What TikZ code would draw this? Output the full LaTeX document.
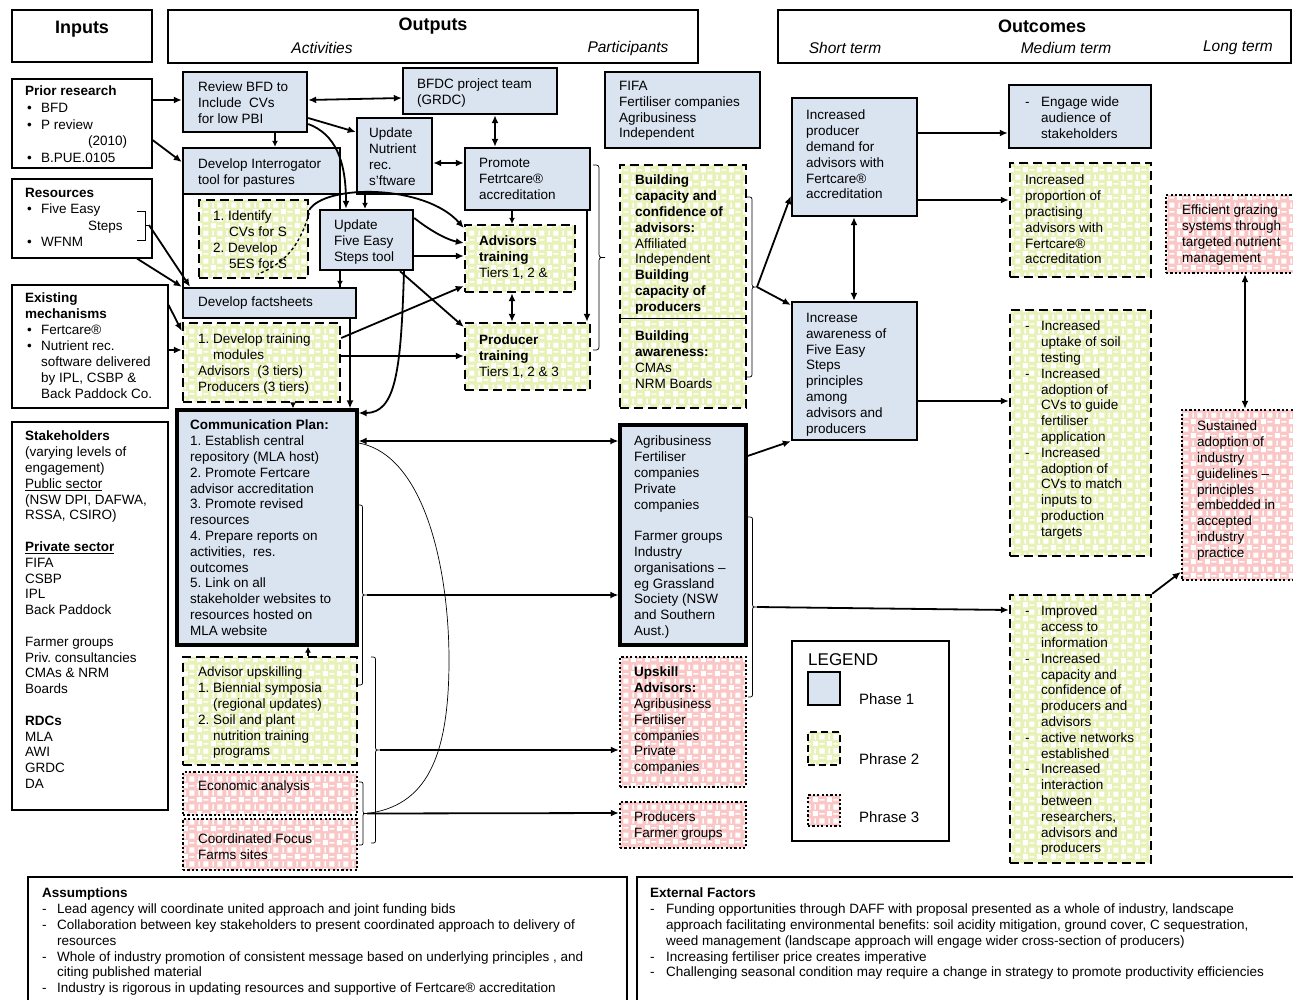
\documentclass[tikz,border=0pt]{standalone}
\usepackage{fontspec}
\setmainfont{Liberation Sans}
\usetikzlibrary{arrows.meta,fit,patterns.meta}

\definecolor{pone}{RGB}{218,227,240}
\definecolor{ptwo}{RGB}{232,241,184}
\definecolor{pthree}{RGB}{250,198,198}

% chequered texture used on phase 2 and phase 3 boxes
\tikzdeclarepattern{
  name=chk, type=uncolored,
  bottom left={(0pt,0pt)}, top right={(14pt,14pt)}, tile size={(14pt,14pt)},
  code={\fill (0.8pt,0.8pt) rectangle (6.2pt,6.2pt);
        \fill (7.8pt,7.8pt) rectangle (13.2pt,13.2pt);
        \fill (7.8pt,2.5pt) rectangle (13.2pt,4pt);
        \fill (2.5pt,7.8pt) rectangle (4pt,13.2pt);}
}

\newcommand{\bul}{\hspace*{2pt}\makebox[14pt][l]{\textbullet}}
\newcommand{\dsh}{\makebox[16pt][l]{-}}
\newcommand{\ind}{\hspace*{16pt}}
% right-pointing curly bracket: x, top y, bottom y, width, tip name
\newcommand{\bracepath}[5]{%
  \draw[brc] (#1,#2) .. controls ({#1+#4/2},#2) .. ({#1+#4/2},{#2+#4/2})
    -- ({#1+#4/2},{(#2+#3)/2-#4/2}) .. controls ({#1+#4/2},{(#2+#3)/2}) .. ({#1+#4},{(#2+#3)/2}) coordinate (#5)
    .. controls ({#1+#4/2},{(#2+#3)/2}) .. ({#1+#4/2},{(#2+#3)/2+#4/2})
    -- ({#1+#4/2},{#3-#4/2}) .. controls ({#1+#4/2},#3) .. (#1,#3);}

\tikzset{
  inbox/.style={draw, line width=1.1pt, inner sep=0pt},
  phaseA/.style={draw, line width=2.4pt, fill=pone, inner sep=0pt},
  phaseB/.style={draw, line width=2.4pt, dash pattern=on 9pt off 5pt,
    preaction={fill=ptwo}, pattern=chk, pattern color=white, inner sep=0pt},
  phaseC/.style={draw, line width=2.4pt, dash pattern=on 2.2pt off 2.2pt,
    preaction={fill=pthree}, pattern=chk, pattern color=white, inner sep=0pt},
  txt/.style={anchor=north west, inner sep=0pt, align=left,
    font=\fontsize{13.5}{15.8}\selectfont},
  head/.style={inner sep=0pt, font=\fontsize{18}{20}\bfseries\selectfont},
  sub/.style={inner sep=0pt, font=\fontsize{15.5}{18}\itshape\selectfont},
  arr/.style={line width=1.8pt, -{Latex[length=8pt,width=7pt]}},
  darr/.style={line width=1.8pt, {Latex[length=8pt,width=7pt]}-{Latex[length=8pt,width=7pt]}},
  sarr/.style={line width=1.8pt, -{Latex[length=6pt,width=6pt]}},
  sdarr/.style={line width=1.8pt, {Latex[length=6pt,width=6pt]}-{Latex[length=6pt,width=6pt]}},
  brc/.style={line width=0.7pt},
}

\begin{document}
\frenchspacing
\begin{tikzpicture}[x=1pt, y=-1pt]
\useasboundingbox (0,0) rectangle (1293,999);

% ---------- headers ----------
\node[inbox, fit={(12,10) (152,62)}] (hin) {};
\node[inbox, fit={(168,10) (698,63)}] (hout) {};
\node[inbox, fit={(778,10) (1291,63)}] (hoc) {};

% ---------- inputs ----------
\node[inbox, fit={(12,79) (152,168)}] (prior) {};
\node[inbox, fit={(12,179) (152,258)}] (res) {};
\node[inbox, fit={(12,285) (168,408)}] (exist) {};
\node[inbox, fit={(12,422) (168,810)}] (stake) {};

% ---------- activities ----------
\node[phaseA, fit={(183,72) (307,132)}] (review) {};
\node[phaseA, fit={(403,68) (557,114)}] (bfdc) {};
\node[phaseA, fit={(183,148) (340,194)}] (interr) {};
\node[draw, line width=2.4pt, fill=white, inner sep=0pt, fit={(183,194) (340,288)}] (interrx) {};
\node[phaseB, fit={(199,200) (308,278)}] (ident) {};
\node[phaseA, fit={(357,118) (432,194)}] (nutr) {};
\node[phaseA, fit={(320,210) (413,270)}] (fes) {};
\node[phaseA, fit={(183,288) (356,318)}] (fact) {};
\node[phaseB, fit={(183,323) (340,402)}] (train) {};
\node[phaseA, line width=3.2pt, fit={(177,410) (357,645)}] (comm) {};
\node[phaseB, fit={(183,657) (357,765)}] (upsk) {};
\node[phaseC, fit={(183,772) (357,815)}] (econ) {};
\node[phaseC, fit={(183,819) (357,870)}] (focus) {};

\node[phaseA, fit={(465,148) (590,210)}] (promo) {};
\node[phaseB, fit={(465,225) (575,292)}] (advt) {};
\node[phaseB, fit={(465,323) (590,390)}] (prodt) {};

% ---------- participants ----------
\node[phaseA, fit={(605,72) (760,148)}] (fifa) {};
\node[phaseB, fit={(620,165) (746,408)}] (build) {};
\draw[line width=1pt] (build.west |- 0,318) -- (build.east |- 0,318);
\node[phaseA, line width=3.2pt, fit={(620,425) (746,645)}] (agri) {};
\node[phaseC, fit={(620,657) (746,787)}] (upadv) {};
\node[phaseC, fit={(620,802) (746,848)}] (prodf) {};

% ---------- outcomes ----------
\node[phaseA, fit={(792,98) (917,216)}] (demand) {};
\node[phaseA, fit={(792,302) (917,440)}] (aw) {};
\node[phaseA, fit={(1009,85) (1151,148)}] (engage) {};
\node[phaseB, fit={(1010,163) (1151,277)}] (prop) {};
\node[phaseB, fit={(1010,310) (1151,556)}] (uptake) {};
\node[phaseB, fit={(1010,595) (1151,863)}] (access) {};
\node[phaseC, fit={(1166,195) (1302,273)}] (effic) {};
\node[phaseC, fit={(1182,410) (1302,580)}] (sust) {};

% ---------- legend ----------
\node[inbox, fit={(792,641) (949,841)}] (legend) {};
\node[phaseA, fit={(808,672) (840,705)}] (leg1) {};
\node[phaseB, dash pattern=on 7pt off 4pt, fit={(808,732) (840,765)}] (leg2) {};
\node[phaseC, fit={(808,795) (840,826)}] (leg3) {};

% ---------- bottom ----------
\node[inbox, fit={(28,877) (627,1010)}] (assum) {};
\node[inbox, fit={(637,877) (1300,1010)}] (ext) {};

% ---------- brackets ----------
\draw[brc] (137,211) -- (145,211) -- (145,240) -- (137,240);
\draw[brc] (145,225) -- (149,225) coordinate (restip);
\bracepath{593}{165}{350}{12}{tipPromo}
\bracepath{747}{197}{377}{10}{tipBuild}
\bracepath{748}{517}{697}{9}{tipAgri}
\bracepath{358}{505}{685}{9}{tipA}
\bracepath{371}{657}{843}{9}{tipB}
\bracepath{359}{782}{845}{8}{tipC}
\draw[brc] (comm.east |- 0,443) .. controls (425,455) and (449,570) .. (449,660)
  .. controls (449,760) and (425,806) .. (tipC);

% ---------- connectors: inputs ----------
\draw[arr] (prior.east |- 0,100) -- (review.west |- 0,100);
\draw[arr] (prior.east |- 0,140) -- (interr.west |- 0,162);
\draw[arr] (restip) -- (fact.north -| 190,0);
\draw[arr] (res.south -| 137,0) -- (fact.north west);
\draw[arr] (exist.east |- 0,305) -- (train.west |- 0,331);
\draw[arr] (exist.east |- 0,350) -- (train.west |- 0,350);

% ---------- connectors: activities ----------
\draw[darr] (review.east |- 0,100) -- (bfdc.west |- 0,98);
\draw[sarr] (review.south -| 275,0) -- (interr.north -| 275,0);
\draw[arr] (review.east |- 0,118) -- (nutr.west |- 0,132);
\draw[arr] (review.east |- 0,124) .. controls (335,134) and (346,160) .. (fes.north -| 346,0);
\draw[sarr] (nutr.south -| 365,0) -- (fes.north -| 365,0);
\draw[arr] (ident.east |- 0,210) .. controls (325,184) and (425,184) .. (advt.west |- 0,228);
\coordinate (identloop) at (258,274);
\draw[line width=1.3pt, dash pattern=on 3pt off 2.5pt] (ident.east |- 0,213) .. controls (302,238) and (290,262) .. (identloop);
\draw[darr] (bfdc.south -| 495,0) -- (promo.north -| 495,0);
\draw[darr] (nutr.east |- 0,163) -- (promo.west |- 0,163);
\draw[sarr] (promo.south -| 512,0) -- (advt.north -| 512,0);
\draw[darr] (advt.south -| 512,0) -- (prodt.north -| 512,0);
\draw[arr] (promo.south -| 587,0) -- (prodt.north -| 587,0);
\draw[arr] (fes.east |- 0,218) .. controls (432,232) and (448,240) .. (advt.west |- 0,243);
\draw[arr] (fes.east |- 0,256) -- (advt.west |- 0,256);
\draw[arr] (fes.south -| 400,0) -- (prodt.west |- 0,327);
\draw[arr] (train.east |- 0,338) -- (advt.west |- 0,286);
\draw[arr] (train.east |- 0,356) -- (prodt.west |- 0,356);
\draw[sarr] (fes.south -| 340,0) -- (fact.north -| 340,0);
\draw[arr] (fes.south -| 404,0) .. controls (401,370) and (396,413) .. (comm.east |- 0,413);
\draw[arr] (fact.south -| 350,0) -- (comm.north -| 350,0);
\draw[sarr] (train.south -| 293,0) -- (comm.north -| 293,0);
\draw[sarr] (upsk.north -| 308,0) -- (comm.south -| 308,0);

% ---------- connectors: participants ----------
\draw[darr] (comm.east |- 0,441) -- (agri.west |- 0,441);
\draw[arr] (tipA) -- (agri.west |- 0,595);
\draw[arr] (tipB) -- (upadv.west |- 0,750);
\draw[arr] (tipC) -- (prodf.west |- 0,813);
\draw[arr] (tipBuild) -- (demand.west |- 0,196);
\draw[arr] (tipBuild) -- (aw.west |- 0,305);
\draw[arr] (agri.east |- 0,456) -- (aw.south west);
\draw[arr] (tipAgri) -- (access.west |- 0,610);

% ---------- connectors: outcomes ----------
\draw[arr] (demand.east |- 0,133) -- (engage.west |- 0,133);
\draw[arr] (demand.east |- 0,200) -- (prop.west |- 0,200);
\draw[darr] (demand.south -| 854,0) -- (aw.north -| 854,0);
\draw[arr] (aw.east |- 0,401) -- (uptake.west |- 0,401);
\draw[darr] (effic.south -| 1245,0) -- (sust.north -| 1245,0);
\draw[arr] (access.north east) -- (sust.west |- 0,572);

% ---------- texts ----------
\node[head] (tin) at (82,29) {Inputs};
\node[head] (tout) at (433,26) {Outputs};
\node[sub] (tact) at (322,48) {Activities};
\node[sub] (tpart) at (628,48) {Participants};
\node[head] (toc) at (1042,26) {Outcomes};
\node[sub] (tshort) at (845,48) {Short term};
\node[sub] (tmed) at (1066,48) {Medium term};
\node[sub] (tlong) at (1238,48) {Long term};

\node[txt, font=\fontsize{13.5}{16.6}\selectfont] (tprior) at (25,86)
  {\textbf{Prior research}\\ \bul BFD\\ \bul P review\\ \hspace*{63pt}(2010)\\ \bul B.PUE.0105};
\node[txt, font=\fontsize{13.5}{16.3}\selectfont] (tres) at (25,188)
  {\textbf{Resources}\\ \bul Five Easy\\ \hspace*{63pt}Steps\\ \bul WFNM};
\node[txt, font=\fontsize{13.5}{16}\selectfont] (texist) at (25,293)
  {\textbf{Existing}\\ \textbf{mechanisms}\\ \bul Fertcare®\\ \bul Nutrient rec.\\ \ind software delivered\\ \ind by IPL, CSBP \&\\ \ind Back Paddock Co.};
\node[txt] (tstake) at (25,431)
  {\textbf{Stakeholders}\\ (varying levels of\\ engagement)\\ \underline{Public sector}\\ (NSW DPI, DAFWA,\\ RSSA, CSIRO)\\[15.8pt]
   \textbf{\underline{Private sector}}\\ FIFA\\ CSBP\\ IPL\\ Back Paddock\\[15.8pt]
   Farmer groups\\ Priv. consultancies\\ CMAs \& NRM\\ Boards\\[15.8pt]
   \textbf{RDCs}\\ MLA\\ AWI\\ GRDC\\ DA};

\node[txt] (treview) at (198,82) {Review BFD to\\ Include\ \ CVs\\ for low PBI};
\node[txt] (tbfdc) at (417,79) {BFDC project team\\ (GRDC)};
\node[txt] (tnutr) at (369,128) {Update\\ Nutrient\\ rec.\\ s'ftware};
\node[txt] (tinterr) at (198,159) {Develop Interrogator\\ tool for pastures};
\node[txt] (tident) at (213,211) {1. Identify\\ \ind CVs for S\\ 2. Develop\\ \ind 5ES for S};
\node[txt] (tfes) at (334,220) {Update\\ Five Easy\\ Steps tool};
\node[txt] (tfact) at (198,297) {Develop factsheets};
\node[txt] (ttrain) at (198,334) {1. Develop training\\ \hspace*{15pt}modules\\ Advisors\ \ (3 tiers)\\ Producers (3 tiers)};
\node[txt] (tcomm) at (190,420)
  {\textbf{Communication Plan:}\\ 1. Establish central\\ repository (MLA host)\\ 2. Promote Fertcare\\ advisor accreditation\\
   3. Promote revised\\ resources\\ 4. Prepare reports on\\ activities,\ \ res.\\ outcomes\\ 5. Link on all\\
   stakeholder websites to\\ resources hosted on\\ MLA website};
\node[txt] (tupsk) at (198,667) {Advisor upskilling\\ 1. Biennial symposia\\ \hspace*{15pt}(regional updates)\\ 2. Soil and plant\\ \hspace*{15pt}nutrition training\\ \hspace*{15pt}programs};
\node[txt] (tecon) at (198,781) {Economic analysis};
\node[txt] (tfocus) at (198,834) {Coordinated Focus\\ Farms sites};
\node[txt] (tpromo) at (479,158) {Promote\\ Fetrtcare®\\ accreditation};
\node[txt] (tadvt) at (479,236) {\textbf{Advisors}\\ \textbf{training}\\ Tiers 1, 2 \&};
\node[txt] (tprodt) at (479,335) {\textbf{Producer}\\ \textbf{training}\\ Tiers 1, 2 \& 3};

\node[txt] (tfifa) at (619,81) {FIFA\\ Fertiliser companies\\ Agribusiness\\ Independent};
\node[txt] (tbuild) at (635,175) {\textbf{Building}\\ \textbf{capacity and}\\ \textbf{confidence of}\\ \textbf{advisors:}\\ Affiliated\\ Independent\\ \textbf{Building}\\ \textbf{capacity of}\\ \textbf{producers}};
\node[txt] (taware) at (635,331) {\textbf{Building}\\ \textbf{awareness:}\\ CMAs\\ NRM Boards};
\node[txt] (tagri) at (634,436) {Agribusiness\\ Fertiliser\\ companies\\ Private\\ companies\\[15.8pt] Farmer groups\\ Industry\\ organisations –\\ eg Grassland\\ Society (NSW\\ and Southern\\ Aust.)};
\node[txt] (tupadv) at (634,667) {\textbf{Upskill}\\ \textbf{Advisors:}\\ Agribusiness\\ Fertiliser\\ companies\\ Private\\ companies};
\node[txt] (tprodf) at (634,812) {Producers\\ Farmer groups};

\node[txt] (tdemand) at (806,110) {Increased\\ producer\\ demand for\\ advisors with\\ Fertcare®\\ accreditation};
\node[txt] (taw) at (806,313) {Increase\\ awareness of\\ Five Easy\\ Steps\\ principles\\ among\\ advisors and\\ producers};
\node[txt] (tengage) at (1025,97) {\dsh Engage wide\\ \ind audience of\\ \ind stakeholders};
\node[txt] (tprop) at (1025,175) {Increased\\ proportion of\\ practising\\ advisors with\\ Fertcare®\\ accreditation};
\node[txt] (tuptake) at (1025,321) {\dsh Increased\\ \ind uptake of soil\\ \ind testing\\ \dsh Increased\\ \ind adoption of\\ \ind CVs to guide\\ \ind fertiliser\\ \ind application\\
   \dsh Increased\\ \ind adoption of\\ \ind CVs to match\\ \ind inputs to\\ \ind production\\ \ind targets};
\node[txt] (taccess) at (1025,606) {\dsh Improved\\ \ind access to\\ \ind information\\ \dsh Increased\\ \ind capacity and\\ \ind confidence of\\ \ind producers and\\ \ind advisors\\
   \dsh active networks\\ \ind established\\ \dsh Increased\\ \ind interaction\\ \ind between\\ \ind researchers,\\ \ind advisors and\\ \ind producers};
\node[txt] (teffic) at (1182,205) {Efficient grazing\\ systems through\\ targeted nutrient\\ management};
\node[txt] (tsust) at (1197,421) {Sustained\\ adoption of\\ industry\\ guidelines –\\ principles\\ embedded in\\ accepted\\ industry\\ practice};

\node[anchor=west, inner sep=0pt, font=\fontsize{17}{20}\selectfont] (tleg) at (808,660) {LEGEND};
\node[anchor=west, inner sep=0pt, font=\fontsize{15}{18}\selectfont] (tleg1) at (859,699) {Phase 1};
\node[anchor=west, inner sep=0pt, font=\fontsize{15}{18}\selectfont] (tleg2) at (859,759) {Phrase 2};
\node[anchor=west, inner sep=0pt, font=\fontsize{15}{18}\selectfont] (tleg3) at (859,817) {Phrase 3};

\node[txt] (tassum) at (42,888)
  {\textbf{Assumptions}\\ \makebox[15pt][l]{-}Lead agency will coordinate united approach and joint funding bids\\
   \makebox[15pt][l]{-}Collaboration between key stakeholders to present coordinated approach to delivery of\\ \hspace*{15pt}resources\\
   \makebox[15pt][l]{-}Whole of industry promotion of consistent message based on underlying principles , and\\ \hspace*{15pt}citing published material\\
   \makebox[15pt][l]{-}Industry is rigorous in updating resources and supportive of Fertcare®\ accreditation};
\node[txt] (text) at (650,888)
  {\textbf{External Factors}\\ \makebox[16pt][l]{-}Funding opportunities through DAFF with proposal presented as a whole of industry, landscape\\
   \hspace*{16pt}approach facilitating environmental benefits: soil acidity mitigation, ground cover, C sequestration,\\
   \hspace*{16pt}weed management (landscape approach will engage wider cross-section of producers)\\
   \makebox[16pt][l]{-}Increasing fertiliser price creates imperative\\
   \makebox[16pt][l]{-}Challenging seasonal condition may require a change in strategy to promote productivity efficiencies};
\end{tikzpicture}
\end{document}
